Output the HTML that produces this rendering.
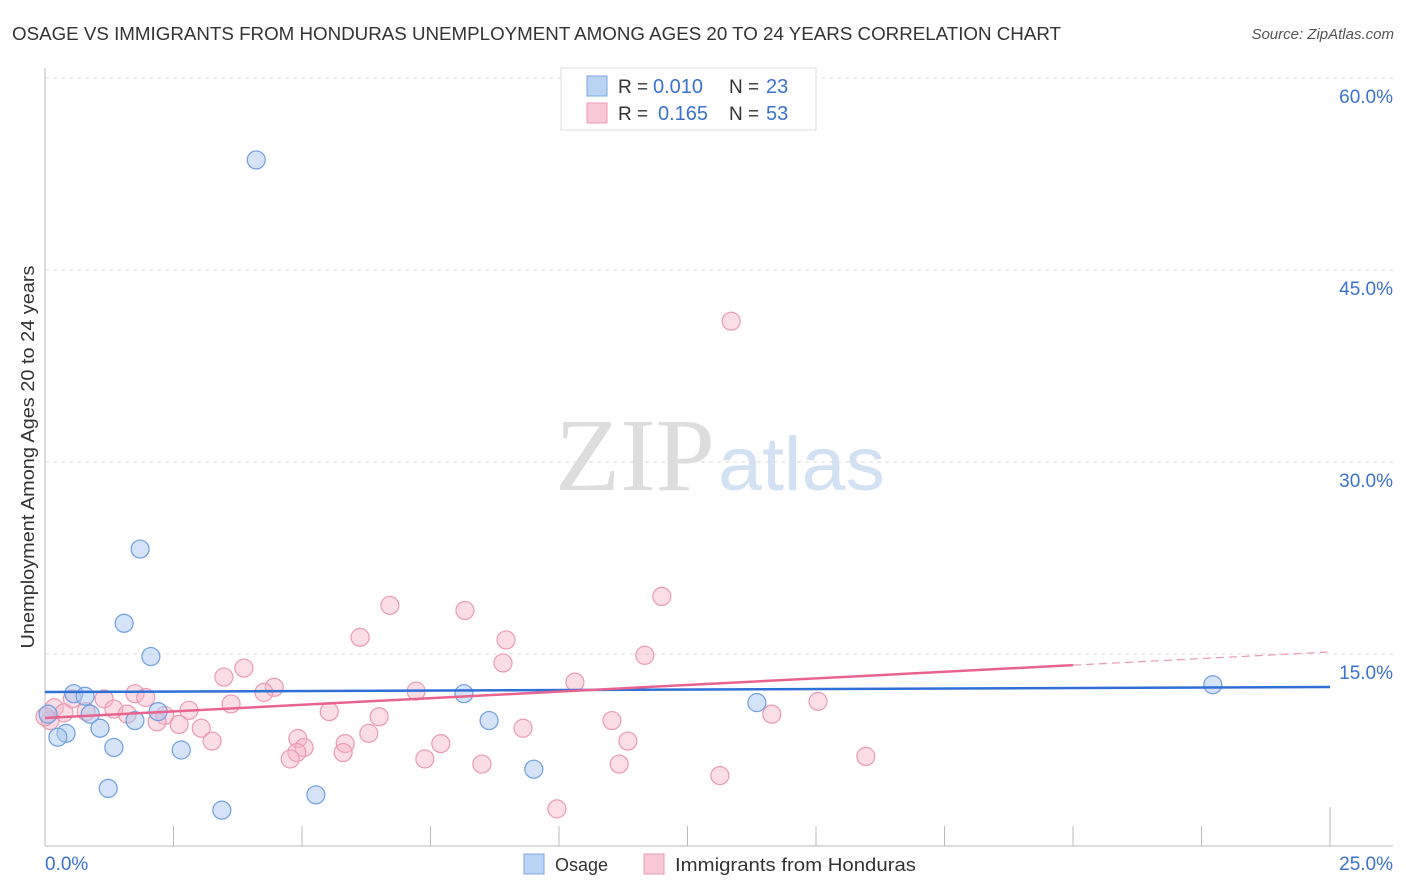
<!DOCTYPE html>
<html><head><meta charset="utf-8">
<style>
html,body{margin:0;padding:0;background:#fff;}
body{width:1406px;height:892px;position:relative;overflow:hidden;font-family:"Liberation Sans",sans-serif;}
svg{position:absolute;left:0;top:0;}
</style></head>
<body>
<svg id="chart" width="1406" height="892">
  <text x="12" y="40" font-size="18" fill="#333" textLength="1049" lengthAdjust="spacingAndGlyphs">OSAGE VS IMMIGRANTS FROM HONDURAS UNEMPLOYMENT AMONG AGES 20 TO 24 YEARS CORRELATION CHART</text>
  <text x="1394" y="39" font-size="15" fill="#555" font-style="italic" text-anchor="end">Source: ZipAtlas.com</text>
  <text x="555" y="490" font-size="104" fill="#ddd" textLength="160" lengthAdjust="spacingAndGlyphs" font-family="Liberation Serif, serif">ZIP</text>
  <text x="718" y="490" font-size="76" fill="#d3e1f5" textLength="167" lengthAdjust="spacingAndGlyphs">atlas</text>
  <text transform="translate(34,457) rotate(-90)" font-size="18" fill="#333" text-anchor="middle" textLength="383" lengthAdjust="spacingAndGlyphs">Unemployment Among Ages 20 to 24 years</text>
  <g id="grid"></g>
  <g id="axes"></g>
  <g id="marks"></g>
  <g>
    <rect x="561" y="68" width="255" height="62" fill="#fff" stroke="#ddd"/>
    <rect x="587" y="76" width="20" height="20" fill="#b9d3f5" stroke="#7aa7e3"/>
    <rect x="587" y="103" width="20" height="20" fill="#f9c8d6" stroke="#ec9ab3"/>
    <text x="618" y="93" font-size="19" fill="#333">R =</text>
    <text x="653" y="93" font-size="20" fill="#3a72d0">0.010</text>
    <text x="729" y="93" font-size="19" fill="#333">N =</text>
    <text x="766" y="93" font-size="20" fill="#3a72d0">23</text>
    <text x="618" y="120" font-size="19" fill="#333">R =</text>
    <text x="658" y="120" font-size="20" fill="#3a72d0">0.165</text>
    <text x="729" y="120" font-size="19" fill="#333">N =</text>
    <text x="766" y="120" font-size="20" fill="#3a72d0">53</text>
  </g>
  <g>
    <rect x="524" y="854" width="20" height="20" fill="#b9d3f5" stroke="#7aa7e3"/>
    <text x="555" y="871" font-size="18" fill="#333">Osage</text>
    <rect x="644" y="854" width="20" height="20" fill="#f9c8d6" stroke="#ec9ab3"/>
    <text x="675" y="871" font-size="18" fill="#333" textLength="241" lengthAdjust="spacingAndGlyphs">Immigrants from Honduras</text>
  </g>
</svg>
<script>
const yTicks = [15, 30, 45, 60];
const yTickLabels = ["15.0%", "30.0%", "45.0%", "60.0%"];
const xTicks = [0, 2.5, 5, 7.5, 10, 12.5, 15, 17.5, 20, 22.5, 25];
const osageX = [4.11,1.85,1.54,2.06,0.56,0.78,0.88,0.06,2.2,1.75,1.07,0.41,0.25,1.34,2.65,1.23,3.44,5.27,8.15,8.64,9.51,13.85,22.72];
const osageY = [53.6,23.2,17.4,14.8,11.9,11.7,10.3,10.3,10.5,9.8,9.2,8.8,8.5,7.7,7.5,4.5,2.8,4.0,11.9,9.8,6.0,11.2,12.6];
const hondX = [13.35,12.0,6.71,8.17,8.97,6.13,11.67,8.91,3.87,3.48,4.46,4.26,7.22,10.31,1.75,1.96,1.15,0.53,0.18,0.37,0.8,1.34,1.6,2.33,2.18,2.8,3.62,2.61,3.04,5.53,6.5,9.3,11.03,15.04,14.14,6.3,4.92,5.84,3.25,5.8,5.04,4.9,4.77,7.7,11.34,7.39,8.5,11.17,15.97,13.13,9.96,0.1,0.0];
const hondY = [41.0,19.5,18.8,18.4,16.1,16.3,14.9,14.3,13.9,13.2,12.4,12.0,12.1,12.8,11.9,11.6,11.5,11.5,10.8,10.4,10.5,10.7,10.3,10.2,9.7,10.6,11.1,9.5,9.2,10.5,10.1,9.2,9.8,11.3,10.3,8.8,8.4,8.0,8.2,7.3,7.7,7.3,6.8,8.0,8.2,6.8,6.4,6.4,7.0,5.5,2.9,9.8,10.1];
const osageTrend = [12.03, 12.42];
const hondTrend = [10.0, 15.16];
const hondSolidEnd = 20;

const NS = "http://www.w3.org/2000/svg";
const X0 = 45, X1 = 1330, Y0 = 846, Y60 = 78;
function sx(v){ return X0 + (v/25)*(X1-X0); }
function sy(v){ return Y0 - (v/60)*(Y0-Y60); }
function mk(tag, attrs, parent){
  const e = document.createElementNS(NS, tag);
  for (const k in attrs) e.setAttribute(k, attrs[k]);
  parent.appendChild(e);
  return e;
}
const grid = document.getElementById('grid');
const axes = document.getElementById('axes');
const marks = document.getElementById('marks');

yTicks.forEach((t,i)=>{
  const l = mk('line',{x1:45,x2:1393,y1:sy(t),y2:sy(t),stroke:'#ddd','stroke-dasharray':'4,4'},grid);
  
  
  const tx = mk('text',{x:1393,y:sy(t)+25,'font-size':19,fill:'#3a72d0','text-anchor':'end'},axes);
  tx.textContent = yTickLabels[i];
  
  
});
const ya = mk('line',{x1:45,x2:45,y1:68,y2:846,stroke:'#bbb'},axes);


const xa = mk('line',{x1:45,x2:1393,y1:846,y2:846,stroke:'#bbb'},axes);


xTicks.forEach((t,i)=>{
  const top = (i===xTicks.length-1) ? 807 : 826;
  const l = mk('line',{x1:sx(t),x2:sx(t),y1:top,y2:846,stroke:'#bbb'},axes);
  
  
});
const xl0 = mk('text',{x:45,y:870,'font-size':19,fill:'#3a72d0'},axes);
xl0.textContent = '0.0%';


const xl1 = mk('text',{x:1393,y:870,'font-size':19,fill:'#3a72d0','text-anchor':'end'},axes);
xl1.textContent = '25.0%';



hondX.forEach((x,i)=>{
  const c = mk('circle',{cx:sx(x),cy:sy(hondY[i]),r:9,fill:'rgba(247,180,200,0.45)',stroke:'#ec9ab3','stroke-width':1.2},marks);
  
  
});
osageX.forEach((x,i)=>{
  const c = mk('circle',{cx:sx(x),cy:sy(osageY[i]),r:9,fill:'rgba(170,200,240,0.5)',stroke:'#6f9fe0','stroke-width':1.2},marks);
  
  
});
const bt = mk('line',{x1:sx(0),y1:sy(osageTrend[0]),x2:sx(25),y2:sy(osageTrend[1]),stroke:'#2f6fd6','stroke-width':2.5},marks);


const ph = v => hondTrend[0] + (hondTrend[1]-hondTrend[0])*v/25;
const pt = mk('line',{x1:sx(0),y1:sy(ph(0)),x2:sx(hondSolidEnd),y2:sy(ph(hondSolidEnd)),stroke:'#e8648f','stroke-width':2.5},marks);


const pd = mk('line',{x1:sx(hondSolidEnd),y1:sy(ph(hondSolidEnd)),x2:sx(25),y2:sy(ph(25)),stroke:'#e8a0b8','stroke-width':1.3,'stroke-dasharray':'8,5'},marks);


</script>
</body></html>
